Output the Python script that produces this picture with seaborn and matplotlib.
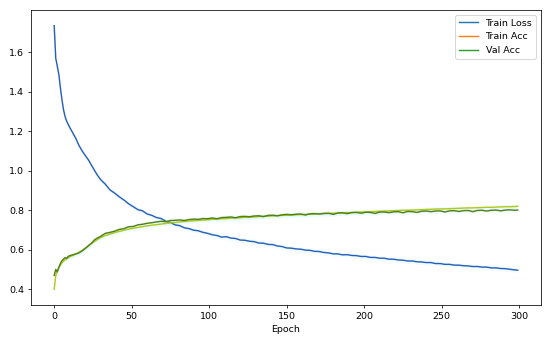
import numpy as np
import pandas as pd
import matplotlib
matplotlib.use("Agg")
import matplotlib.pyplot as plt
from matplotlib.lines import Line2D
import seaborn as sns

epochs = list(range(0, 11)) + list(range(12, 31, 2)) + list(range(33, 298, 3)) + [299]

train_loss = [
    1.735, 1.570, 1.530, 1.488, 1.420, 1.360, 1.310, 1.275, 1.252, 1.236, 1.220,
    1.192, 1.163, 1.128, 1.101, 1.078, 1.056, 1.029, 1.002, 0.976, 0.955,
    0.932, 0.903, 0.887, 0.868, 0.852, 0.833, 0.818, 0.803, 0.797, 0.781,
    0.774, 0.763, 0.758, 0.744, 0.738, 0.726, 0.722, 0.711, 0.707, 0.699,
    0.696, 0.688, 0.683, 0.676, 0.672, 0.664, 0.666, 0.659, 0.657, 0.649,
    0.648, 0.643, 0.641, 0.634, 0.633, 0.627, 0.626, 0.619, 0.616, 0.609,
    0.608, 0.604, 0.603, 0.598, 0.597, 0.592, 0.591, 0.586, 0.584, 0.579,
    0.579, 0.574, 0.575, 0.571, 0.570, 0.566, 0.566, 0.561, 0.561, 0.557,
    0.557, 0.552, 0.552, 0.548, 0.547, 0.543, 0.543, 0.539, 0.538, 0.535,
    0.535, 0.530, 0.530, 0.526, 0.526, 0.522, 0.522, 0.519, 0.518, 0.515,
    0.515, 0.512, 0.512, 0.508, 0.508, 0.505, 0.504, 0.501, 0.498,
    0.496,
]

train_acc = [
    0.400, 0.470, 0.492, 0.508, 0.522, 0.534, 0.542, 0.549, 0.554, 0.559, 0.564,
    0.571, 0.578, 0.587, 0.597, 0.608, 0.618, 0.631, 0.642, 0.652, 0.662,
    0.672, 0.679, 0.687, 0.693, 0.699, 0.704, 0.709, 0.713, 0.717, 0.721,
    0.724, 0.727, 0.730, 0.733, 0.736, 0.738, 0.741, 0.743, 0.745, 0.747,
    0.749, 0.750, 0.752, 0.754, 0.755, 0.757, 0.758, 0.760, 0.761, 0.762,
    0.764, 0.765, 0.766, 0.768, 0.769, 0.770, 0.771, 0.772, 0.774, 0.775,
    0.776, 0.777, 0.778, 0.779, 0.780, 0.781, 0.782, 0.783, 0.784, 0.785,
    0.786, 0.787, 0.788, 0.789, 0.790, 0.791, 0.792, 0.793, 0.794, 0.795,
    0.796, 0.797, 0.798, 0.799, 0.800, 0.800, 0.801, 0.802, 0.803, 0.804,
    0.805, 0.806, 0.807, 0.807, 0.808, 0.809, 0.810, 0.811, 0.812, 0.812,
    0.813, 0.814, 0.815, 0.815, 0.816, 0.817, 0.818, 0.818, 0.819,
    0.820,
]

val_acc = [
    0.470, 0.500, 0.488, 0.512, 0.530, 0.545, 0.552, 0.560, 0.556, 0.566, 0.570,
    0.574, 0.579, 0.584, 0.594, 0.606, 0.620, 0.633, 0.650, 0.660, 0.668,
    0.683, 0.688, 0.694, 0.703, 0.707, 0.716, 0.718, 0.726, 0.729, 0.734,
    0.737, 0.741, 0.744, 0.742, 0.748, 0.749, 0.751, 0.748, 0.753, 0.755,
    0.754, 0.758, 0.757, 0.761, 0.757, 0.763, 0.764, 0.766, 0.762, 0.768,
    0.769, 0.767, 0.771, 0.772, 0.768, 0.774, 0.775, 0.772, 0.777, 0.779,
    0.777, 0.780, 0.781, 0.776, 0.782, 0.783, 0.781, 0.784, 0.785, 0.779,
    0.786, 0.787, 0.783, 0.788, 0.789, 0.785, 0.790, 0.789, 0.784, 0.791,
    0.791, 0.788, 0.792, 0.793, 0.787, 0.794, 0.793, 0.789, 0.795, 0.796,
    0.793, 0.796, 0.797, 0.791, 0.797, 0.798, 0.794, 0.798, 0.799, 0.793,
    0.799, 0.800, 0.796, 0.800, 0.801, 0.797, 0.801, 0.802, 0.800,
    0.801,
]

series_names = ["Train Loss", "Train Acc", "Val Acc"]
legend_colors = ["#1f77b4", "#ff7f0e", "#2ca02c"]
line_colors = ["#2a5fb8", "#b2c81c", "#557f14"]

df = pd.DataFrame({"Epoch": epochs, "Train Loss": train_loss,
                   "Train Acc": train_acc, "Val Acc": val_acc})

fig = plt.figure(figsize=(8, 5.004), dpi=68.75)
ax = fig.add_axes([0.0564, 0.1134, 0.927, 0.8576])

for name, col in zip(series_names, line_colors):
    y = df[name].to_numpy()
    ax.fill_between(df["Epoch"], y - 0.012, y + 0.012, color="#00e5ff",
                    alpha=0.06, linewidth=0)
    sns.lineplot(data=df, x="Epoch", y=name, color=col, linewidth=1.5,
                 ax=ax, legend=False)

handles = [Line2D([0], [0], color=c, linewidth=1.5) for c in legend_colors]
ax.legend(handles, series_names, loc="upper right")
ax.set_ylabel("")
ax.set_xlabel("Epoch")
ax.set_xticks([0, 50, 100, 150, 200, 250, 300])
ax.set_yticks([0.4, 0.6, 0.8, 1.0, 1.2, 1.4, 1.6])

fig.savefig("out.png", dpi=68.75)
